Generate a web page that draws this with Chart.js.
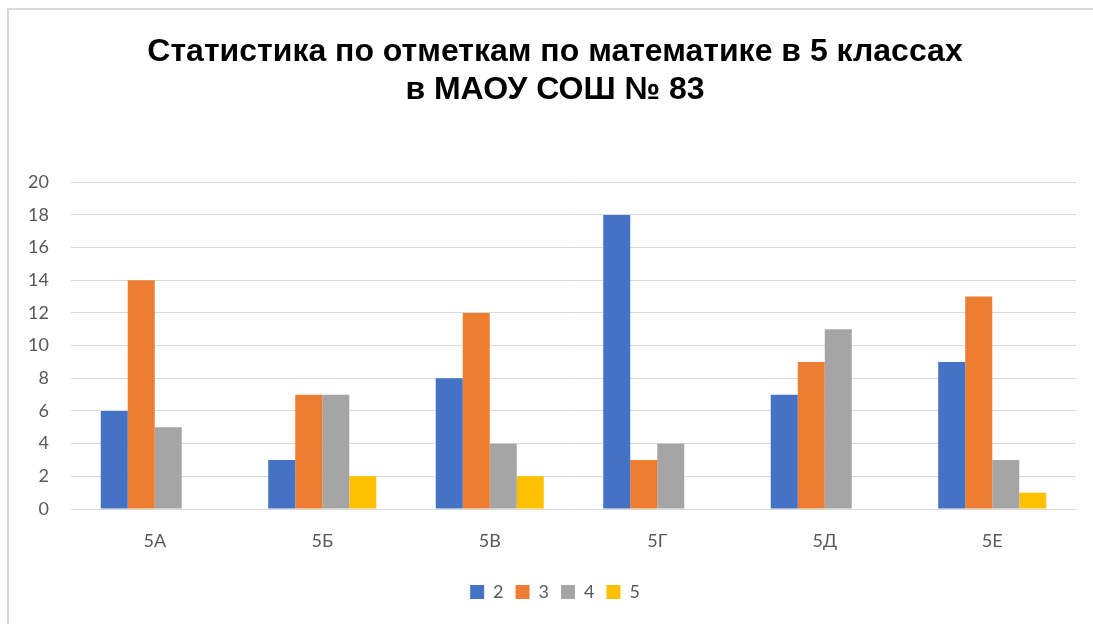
<!DOCTYPE html>
<html>
<head>
<meta charset="utf-8">
<script src="https://cdn.jsdelivr.net/npm/chart.js@4"></script>
<style>
  html, body { margin: 0; padding: 0; background: #fff; overflow: hidden; }
  #box {
    position: absolute; left: 7px; top: 8px;
    width: 1096px; height: 630px;
    border: 2px solid #d9d9d9; box-sizing: border-box;
  }
  canvas { display: block; }
</style>
</head>
<body>
<div id="box"><canvas id="barChart"></canvas></div>
<script>
// данные диаграммы
const classes = ["5А", "5Б", "5В", "5Г", "5Д", "5Е"];
const marks2 = [6, 3, 8, 18, 7, 9];
const marks3 = [14, 7, 12, 3, 9, 13];
const marks4 = [5, 7, 4, 4, 11, 3];
const marks5 = [0, 2, 2, 0, 0, 1];
const yTicks = [0, 2, 4, 6, 8, 10, 12, 14, 16, 18, 20];

const tickFont = { family: "Lato, 'Noto Sans', sans-serif", size: 18 };

const ctx = document.getElementById("barChart").getContext("2d");
const myChart = new Chart(ctx, {
  type: "bar",
  data: {
    labels: classes,
    datasets: [
      { label: "2", data: marks2, backgroundColor: "#4472C4" },
      { label: "3", data: marks3, backgroundColor: "#ED7D31" },
      { label: "4", data: marks4, backgroundColor: "#A5A5A5" },
      { label: "5", data: marks5, backgroundColor: "#FFC000" },
    ],
  },
  options: {
    responsive: true,
    maintainAspectRatio: false,
    animation: false,
    categoryPercentage: 0.645,
    barPercentage: 1,
    layout: { padding: { left: 0, right: 0, top: 0, bottom: 25 } },
    plugins: {
      title: {
        display: true,
        text: ["Статистика по отметкам по математике в 5 классах", "в МАОУ СОШ № 83"],
        color: "#000",
        font: { family: "'Liberation Sans', Arial, sans-serif", size: 32, weight: "bold", lineHeight: 1.16 },
        padding: { top: 24, bottom: 74 },
      },
      legend: {
        position: "bottom",
        labels: {
          boxWidth: 14,
          boxHeight: 14,
          padding: 12,
          color: "#595959",
          font: tickFont,
        },
      },
      tooltip: { enabled: false },
    },
    scales: {
      x: {
        grid: { display: false },
        border: { display: false },
        ticks: { color: "#595959", font: tickFont, padding: 13 },
        afterFit: (scale) => { scale.height = 62; },
      },
      y: {
        min: 0,
        max: 20,
        afterBuildTicks: (scale) => { scale.ticks = yTicks.map((v) => ({ value: v })); },
        grid: { color: "#d9d9d9", lineWidth: 1, drawTicks: false },
        border: { display: false },
        ticks: { color: "#595959", font: tickFont, padding: 22 },
        afterFit: (scale) => { scale.width = 62; },
      },
      // пустая ось справа, чтобы заголовок и легенда были по центру рамки
      yRight: {
        position: "right",
        grid: { display: false },
        border: { display: false },
        ticks: { display: false },
        afterFit: (scale) => { scale.width = 25; },
      },
    },
  },
});
</script>
</body>
</html>
